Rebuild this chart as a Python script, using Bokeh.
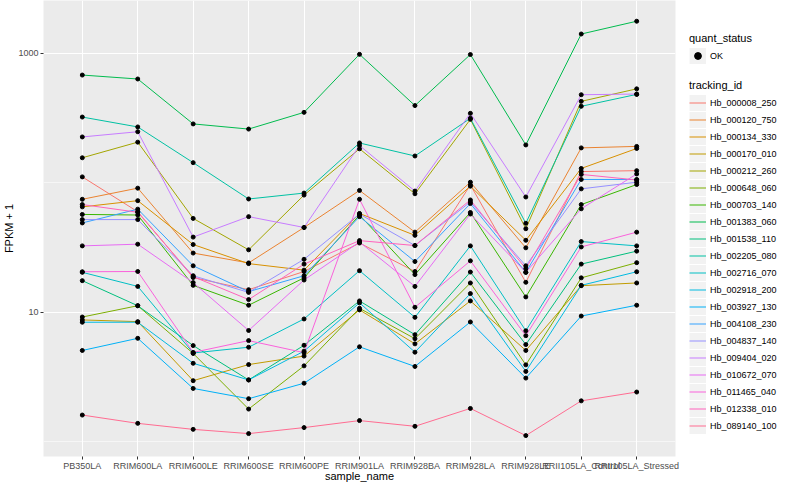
from bokeh.plotting import figure
from bokeh.layouts import row
from bokeh.models import (FactorRange, Range1d, FixedTicker, PrintfTickFormatter,
                          Legend, LegendItem, ColumnDataSource)
from bokeh.embed import file_html
from bokeh.resources import INLINE

samples = ["PB350LA", "RRIM600LA", "RRIM600LE", "RRIM600SE", "RRIM600PE",
           "RRIM901LA", "RRIM928BA", "RRIM928LA", "RRIM928LE",
           "RRII105LA_Control", "RRII105LA_Stressed"]

# FPKM + 1 per tracking_id, in sample order
Hb_000008_250 = [111, 59.7, 18.5, 14.9, 20.6, 34.2, 20.6, 96.2, 17.0, 122, 124]
Hb_000120_750 = [74.5, 90.8, 28.6, 24.0, 45.1, 87.2, 41.5, 101, 31.4, 186, 191]
Hb_000134_330 = [65.1, 72.7, 33.3, 23.7, 21.1, 57.9, 39.2, 94.1, 35.9, 129, 184]
Hb_000170_010 = [8.70, 8.44, 2.95, 3.93, 4.57, 10.4, 5.68, 12.2, 5.05, 16.0, 16.8]
Hb_000212_260 = [156, 206, 53.0, 30.3, 80.3, 183, 82.2, 309, 44.1, 426, 532]
Hb_000648_060 = [9.16, 11.2, 4.79, 1.78, 3.84, 10.7, 6.23, 16.8, 3.91, 18.4, 24.1]
Hb_000703_140 = [56.9, 56.3, 16.1, 11.3, 18.4, 56.3, 19.5, 58.9, 13.1, 67.8, 96.9]
Hb_001383_060 = [680, 634, 285, 260, 350, 983, 395, 980, 196, 1412, 1773]
Hb_001538_110 = [17.5, 11.2, 5.51, 2.99, 5.54, 12.2, 6.69, 20.4, 5.61, 23.5, 29.6]
Hb_002205_080 = [322, 270, 143, 74.9, 83.2, 203, 161, 315, 48.6, 390, 482]
Hb_002716_070 = [20.3, 15.8, 4.83, 5.35, 8.85, 20.9, 9.11, 32.5, 7.17, 35.1, 32.5]
Hb_002918_200 = [8.35, 8.35, 4.02, 2.99, 4.99, 11.8, 4.90, 13.9, 3.48, 16.1, 20.5]
Hb_003927_130 = [5.05, 6.27, 2.57, 2.14, 2.82, 5.39, 3.80, 8.39, 3.09, 9.32, 11.3]
Hb_004108_230 = [48.9, 62.5, 22.8, 14.4, 19.1, 54.7, 24.6, 69.0, 20.3, 106, 106]
Hb_004837_140 = [51.9, 51.9, 19.1, 14.2, 25.6, 57.3, 32.7, 71.1, 22.8, 89.7, 101]
Hb_009404_020 = [226, 248, 38.0, 54.7, 45.1, 194, 86.2, 344, 77.6, 479, 485]
Hb_010672_070 = [32.5, 33.5, 16.9, 7.21, 17.7, 34.8, 15.8, 57.3, 20.3, 62.9, 117]
Hb_011465_040 = [20.5, 20.6, 4.88, 6.02, 4.86, 74.5, 10.9, 24.9, 6.57, 31.9, 41.5]
Hb_012338_010 = [67.8, 59.1, 18.8, 12.5, 23.5, 35.7, 32.7, 73.6, 21.7, 116, 105]
Hb_089140_100 = [1.60, 1.38, 1.24, 1.15, 1.28, 1.45, 1.31, 1.80, 1.11, 2.06, 2.41]

tracking_ids = ["Hb_000008_250", "Hb_000120_750", "Hb_000134_330", "Hb_000170_010",
                "Hb_000212_260", "Hb_000648_060", "Hb_000703_140", "Hb_001383_060",
                "Hb_001538_110", "Hb_002205_080", "Hb_002716_070", "Hb_002918_200",
                "Hb_003927_130", "Hb_004108_230", "Hb_004837_140", "Hb_009404_020",
                "Hb_010672_070", "Hb_011465_040", "Hb_012338_010", "Hb_089140_100"]
series = [Hb_000008_250, Hb_000120_750, Hb_000134_330, Hb_000170_010,
          Hb_000212_260, Hb_000648_060, Hb_000703_140, Hb_001383_060,
          Hb_001538_110, Hb_002205_080, Hb_002716_070, Hb_002918_200,
          Hb_003927_130, Hb_004108_230, Hb_004837_140, Hb_009404_020,
          Hb_010672_070, Hb_011465_040, Hb_012338_010, Hb_089140_100]
colors = ["#F8766D", "#EA8331", "#D89000", "#C09B00", "#A3A500", "#7CAE00",
          "#39B600", "#00BB4E", "#00BF7D", "#00C1A3", "#00BFC4", "#00BAE0",
          "#00B0F6", "#35A2FF", "#9590FF", "#C77CFF", "#E76BF3", "#FA62DB",
          "#FF62BC", "#FF6C91"]
quant_status = ["OK"]
y_ticks = [10, 1000]
y_minor = [1, 100]

FONT = "Liberation Sans"

# ---------------- main panel ----------------
p = figure(width=680, height=484,
           x_range=FactorRange(*samples, range_padding=0.2,
                               range_padding_units="absolute"),
           y_axis_type="log", y_range=Range1d(0.765, 2564),
           output_backend="svg", toolbar_location=None,
           min_border_left=30, min_border_right=5,
           min_border_top=0, min_border_bottom=0)
p.background_fill_color = "#EBEBEB"
p.border_fill_color = "white"
p.outline_line_color = None

ticker = FixedTicker(ticks=y_ticks, minor_ticks=y_minor)
p.yaxis.ticker = ticker
p.ygrid.ticker = ticker
p.yaxis.formatter = PrintfTickFormatter(format="%d")

p.xgrid.grid_line_color = "white"
p.xgrid.grid_line_width = 1.1
p.ygrid.grid_line_color = "white"
p.ygrid.grid_line_width = 1.1
p.ygrid.minor_grid_line_color = "white"
p.ygrid.minor_grid_line_width = 0.55

for ax in (p.xaxis, p.yaxis):
    ax.axis_line_color = None
    ax.major_tick_line_color = "#333333"
    ax.major_tick_out = 3
    ax.major_tick_in = 0
    ax.minor_tick_line_color = None
    ax.major_label_text_color = "#4D4D4D"
    ax.major_label_text_font = FONT
    ax.major_label_text_font_size = "9px"
    ax.axis_label_text_font = FONT
    ax.axis_label_text_font_size = "11px"
    ax.axis_label_text_font_style = "normal"
    ax.axis_label_text_color = "black"
    ax.major_label_standoff = 1
    ax.axis_label_standoff = 0
p.xaxis.axis_label_standoff = -4
p.xaxis.axis_label = "sample_name"
p.yaxis.axis_label = "FPKM + 1"

for vals, col in zip(series, colors):
    src = ColumnDataSource(dict(x=samples, y=vals))
    p.line("x", "y", source=src, line_color=col, line_width=1.0)

all_x = [s for vals in series for s in samples]
all_y = [v for vals in series for v in vals]
p.scatter(x=all_x, y=all_y, size=4.0, color="black")

# ---------------- legend panel ----------------
lf = figure(width=104, height=484, x_range=Range1d(0, 1), y_range=Range1d(0, 1),
            x_axis_location=None, y_axis_location=None,
            output_backend="svg", toolbar_location=None,
            min_border_left=0, min_border_right=0,
            min_border_top=0, min_border_bottom=0)
lf.outline_line_color = None
lf.background_fill_color = "white"
lf.border_fill_color = "white"
lf.grid.visible = False

# legend-only key renderers: their points sit outside the (0, 1) view so
# nothing is drawn in the panel itself, only in the legend keys
off = dict(x=[-5, -4], y=[-5, -4])
key_bg = lf.line(x=off["x"], y=off["y"], line_color="#F2F2F2", line_width=16)
ok_pt = lf.scatter(x=off["x"], y=off["y"], size=4, color="black")
key_lines = [lf.line(x=off["x"], y=off["y"], line_color=c, line_width=1.0)
             for c in colors]

def style_legend(lg):
    lg.background_fill_alpha = 0
    lg.border_line_color = None
    lg.padding = 0
    lg.margin = 0
    lg.spacing = 0
    lg.glyph_height = 17
    lg.glyph_width = 17
    lg.label_height = 17
    lg.label_standoff = 4
    lg.label_text_font = FONT
    lg.label_text_font_size = "9px"
    lg.label_text_color = "black"
    lg.title_text_font = FONT
    lg.title_text_font_size = "11px"
    lg.title_text_font_style = "normal"
    lg.title_text_color = "black"
    lg.title_standoff = 3

# location = bottom-left corner of each legend, px from the frame's bottom-left
leg1 = Legend(items=[LegendItem(label=q, renderers=[key_bg, ok_pt]) for q in quant_status],
              title="quant_status", location=(9, 392))
leg2 = Legend(items=[LegendItem(label=g, renderers=[key_bg, r])
                     for g, r in zip(tracking_ids, key_lines)],
              title="tracking_id", location=(9, 22))
style_legend(leg1)
style_legend(leg2)
lf.add_layout(leg1)
lf.add_layout(leg2)

layout = row(p, lf)
open("out.html", "w").write(file_html(layout, INLINE))
